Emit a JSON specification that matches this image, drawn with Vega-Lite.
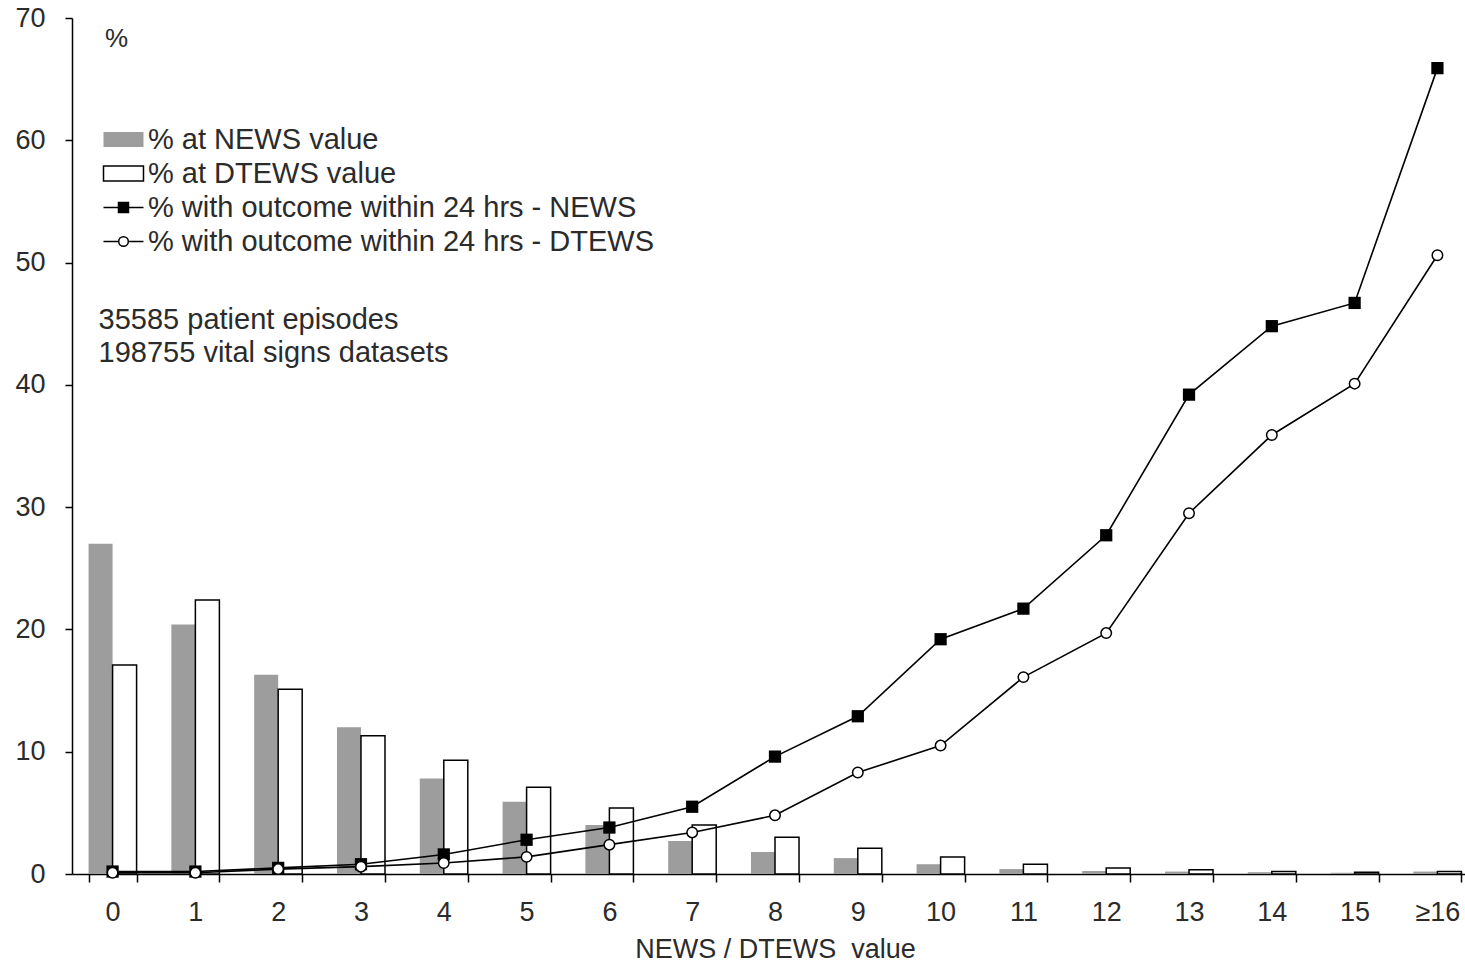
{
  "$schema": "https://vega.github.io/schema/vega-lite/v6.json",
  "width": 1393,
  "height": 856,
  "autosize": {"type": "none"},
  "padding": {"left": 72, "top": 18, "right": 0, "bottom": 91},
  "background": "white",
  "config": {
    "view": {"stroke": null},
    "font": "Liberation Sans",
    "axis": {
      "grid": false,
      "domainColor": "black",
      "domainWidth": 1.5,
      "tickColor": "black",
      "tickWidth": 1.5,
      "labelColor": "#2b2b2b",
      "labelFont": "Liberation Sans",
      "labelFontSize": 27,
      "titleFont": "Liberation Sans",
      "titleColor": "#2b2b2b",
      "titleFontSize": 27,
      "titleFontWeight": "normal"
    },
    "legend": {
      "orient": "none",
      "legendX": 37,
      "legendY": 107,
      "padding": 0,
      "symbolSize": 400,
      "symbolStrokeWidth": 1.5,
      "labelOffset": 10,
      "rowPadding": 4,
      "labelFont": "Liberation Sans",
      "labelFontSize": 29,
      "labelColor": "#2b2b2b",
      "labelLimit": 0
    }
  },
  "datasets": {
    "scores": [
      {"score": "0", "NEWS_bar": 27.0, "DTEWS_bar": 17.1, "NEWS_out": 0.2, "DTEWS_out": 0.1},
      {"score": "1", "NEWS_bar": 20.4, "DTEWS_bar": 22.4, "NEWS_out": 0.2, "DTEWS_out": 0.1},
      {"score": "2", "NEWS_bar": 16.3, "DTEWS_bar": 15.1, "NEWS_out": 0.5, "DTEWS_out": 0.4},
      {"score": "3", "NEWS_bar": 12.0, "DTEWS_bar": 11.3, "NEWS_out": 0.8, "DTEWS_out": 0.6},
      {"score": "4", "NEWS_bar": 7.8, "DTEWS_bar": 9.3, "NEWS_out": 1.6, "DTEWS_out": 0.9},
      {"score": "5", "NEWS_bar": 5.9, "DTEWS_bar": 7.1, "NEWS_out": 2.8, "DTEWS_out": 1.4},
      {"score": "6", "NEWS_bar": 4.0, "DTEWS_bar": 5.4, "NEWS_out": 3.8, "DTEWS_out": 2.4},
      {"score": "7", "NEWS_bar": 2.7, "DTEWS_bar": 4.0, "NEWS_out": 5.5, "DTEWS_out": 3.4},
      {"score": "8", "NEWS_bar": 1.8, "DTEWS_bar": 3.0, "NEWS_out": 9.6, "DTEWS_out": 4.8},
      {"score": "9", "NEWS_bar": 1.3, "DTEWS_bar": 2.1, "NEWS_out": 12.9, "DTEWS_out": 8.3},
      {"score": "10", "NEWS_bar": 0.8, "DTEWS_bar": 1.4, "NEWS_out": 19.2, "DTEWS_out": 10.5},
      {"score": "11", "NEWS_bar": 0.4, "DTEWS_bar": 0.8, "NEWS_out": 21.7, "DTEWS_out": 16.1},
      {"score": "12", "NEWS_bar": 0.25, "DTEWS_bar": 0.5, "NEWS_out": 27.7, "DTEWS_out": 19.7},
      {"score": "13", "NEWS_bar": 0.2, "DTEWS_bar": 0.35, "NEWS_out": 39.2, "DTEWS_out": 29.5},
      {"score": "14", "NEWS_bar": 0.15, "DTEWS_bar": 0.2, "NEWS_out": 44.8, "DTEWS_out": 35.9},
      {"score": "15", "NEWS_bar": 0.1, "DTEWS_bar": 0.15, "NEWS_out": 46.7, "DTEWS_out": 40.1},
      {"score": "≥16", "NEWS_bar": 0.2, "DTEWS_bar": 0.2, "NEWS_out": 65.9, "DTEWS_out": 50.6}
    ],
    "notes": [
      {"note": "35585 patient episodes"}
    ]
  },
  "layer": [
    {
      "data": {"name": "scores"},
      "transform": [
        {"fold": ["NEWS_bar", "DTEWS_bar", "NEWS_out", "DTEWS_out"], "as": ["series", "value"]}
      ],
      "encoding": {
        "x": {
          "field": "score",
          "type": "nominal",
          "sort": null,
          "scale": {"range": [0, 1406], "paddingInner": 0.42},
          "axis": {
            "labelAngle": 0,
            "tickBand": "extent",
            "tickSize": 8,
            "labelPadding": 17,
            "title": "NEWS / DTEWS\u00a0 value",
            "titlePadding": 11
          }
        },
        "y": {
          "field": "value",
          "type": "quantitative",
          "scale": {"domain": [0, 70], "nice": false},
          "axis": {
            "values": [0, 10, 20, 30, 40, 50, 60, 70],
            "tickSize": 7,
            "labelPadding": 20,
            "title": "%",
            "titleAngle": 0,
            "titleX": 44,
            "titleY": 20,
            "titleAlign": "center",
            "titleBaseline": "middle",
            "titleFontSize": 26
          }
        }
      },
      "layer": [
        {
          "transform": [{"filter": "datum.series === 'NEWS_bar' || datum.series === 'DTEWS_bar'"}],
          "mark": {"type": "bar", "strokeWidth": 1.5},
          "encoding": {
            "xOffset": {
              "field": "series",
              "type": "nominal",
              "scale": {"domain": ["NEWS_bar", "DTEWS_bar"], "paddingInner": 0, "paddingOuter": 0}
            },
            "fill": {
              "field": "series",
              "type": "nominal",
              "scale": {
                "domain": ["NEWS_bar", "DTEWS_bar", "NEWS_out", "DTEWS_out"],
                "range": ["#9d9d9d", "white", "black", "white"]
              },
              "legend": {
                "title": null,
                "labelExpr": "{'NEWS_bar': '% at NEWS value', 'DTEWS_bar': '% at DTEWS value', 'NEWS_out': '% with outcome within 24 hrs - NEWS', 'DTEWS_out': '% with outcome within 24 hrs - DTEWS'}[datum.value]"
              }
            },
            "stroke": {
              "field": "series",
              "type": "nominal",
              "scale": {
                "domain": ["NEWS_bar", "DTEWS_bar", "NEWS_out", "DTEWS_out"],
                "range": ["transparent", "black", "black", "black"]
              },
              "legend": {
                "title": null,
                "labelExpr": "{'NEWS_bar': '% at NEWS value', 'DTEWS_bar': '% at DTEWS value', 'NEWS_out': '% with outcome within 24 hrs - NEWS', 'DTEWS_out': '% with outcome within 24 hrs - DTEWS'}[datum.value]"
              }
            }
          }
        },
        {
          "transform": [{"filter": "datum.series === 'NEWS_out' || datum.series === 'DTEWS_out'"}],
          "mark": {"type": "line", "color": "black", "strokeWidth": 1.6},
          "encoding": {"detail": {"field": "series", "type": "nominal"}}
        },
        {
          "transform": [{"filter": "datum.series === 'NEWS_out'"}],
          "mark": {"type": "point", "shape": "square", "filled": true, "color": "black", "size": 150, "opacity": 1}
        },
        {
          "transform": [{"filter": "datum.series === 'DTEWS_out'"}],
          "mark": {"type": "point", "shape": "circle", "filled": true, "fill": "white", "stroke": "black", "strokeWidth": 1.5, "size": 110, "opacity": 1}
        },
        {
          "transform": [{"filter": "false"}],
          "mark": {"type": "point", "opacity": 1},
          "encoding": {
            "shape": {
              "field": "series",
              "type": "nominal",
              "scale": {
                "domain": ["NEWS_bar", "DTEWS_bar", "NEWS_out", "DTEWS_out"],
                "range": [
                  "M-2,-0.75H2V0.75H-2Z",
                  "M-2,-0.75H2V0.75H-2Z",
                  "M-2,0H2M-0.5,-0.5H0.5V0.5H-0.5Z",
                  "M-2,0H-0.48M0.48,0H2M-0.48,0A0.48,0.48 0 1,0 0.48,0A0.48,0.48 0 1,0 -0.48,0Z"
                ]
              },
              "legend": {
                "title": null,
                "labelExpr": "{'NEWS_bar': '% at NEWS value', 'DTEWS_bar': '% at DTEWS value', 'NEWS_out': '% with outcome within 24 hrs - NEWS', 'DTEWS_out': '% with outcome within 24 hrs - DTEWS'}[datum.value]"
              }
            }
          }
        }
      ]
    },
    {
      "data": {"name": "notes"},
      "mark": {
        "type": "text",
        "align": "left",
        "baseline": "top",
        "lineHeight": 33,
        "font": "Liberation Sans",
        "fontSize": 29,
        "color": "#2b2b2b",
        "dx": -14
      },
      "encoding": {
        "x": {"datum": "0", "type": "nominal"},
        "y": {"datum": 46.44, "type": "quantitative"},
        "text": {"value": ["35585 patient episodes", "198755 vital signs datasets"]}
      }
    }
  ]
}
